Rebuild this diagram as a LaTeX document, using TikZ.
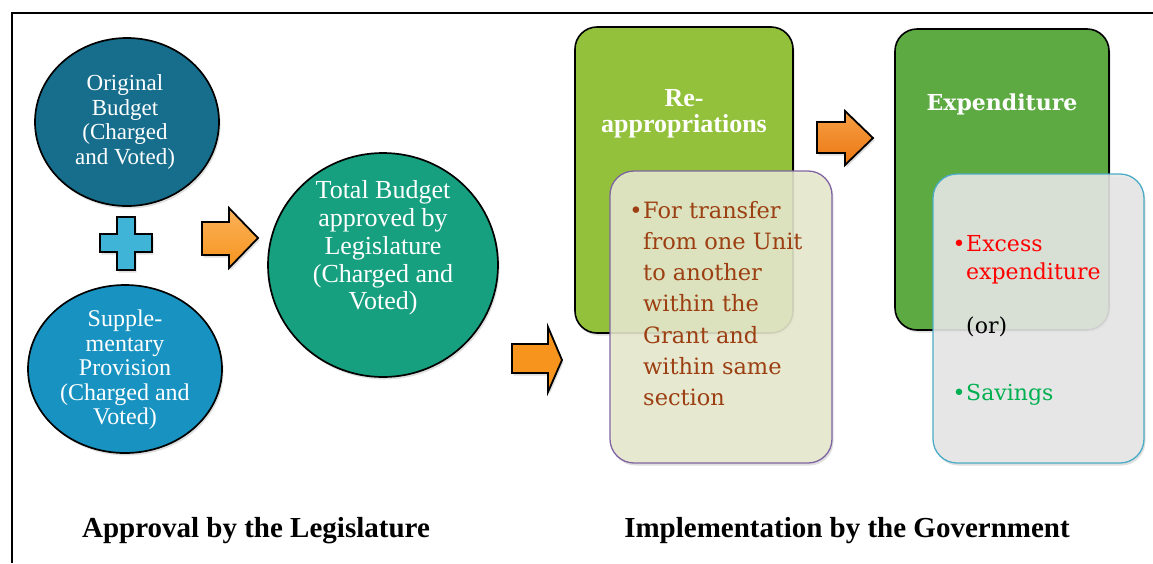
\documentclass[tikz,border=0pt]{standalone}
\usepackage{fontspec}
\setmainfont{Liberation Serif}
\newfontfamily\cambria{DejaVu Serif}
\usetikzlibrary{shapes.geometric,shadows}

\definecolor{origblue}{HTML}{166E8C}
\definecolor{supblue}{HTML}{1893C1}
\definecolor{totalgreen}{HTML}{16A07F}
\definecolor{plusblue}{HTML}{3FB4D6}
\definecolor{arrowlight}{HTML}{FBB25A}
\definecolor{arroworange}{HTML}{F7941E}
\definecolor{arrowdeep}{HTML}{EC7612}
\definecolor{reappgreen}{HTML}{93C13B}
\definecolor{expgreen}{HTML}{5DA942}
\definecolor{notecream}{HTML}{E7EACD}
\definecolor{notepurple}{HTML}{8064A2}
\definecolor{notegrey}{HTML}{E8E8E8}
\definecolor{noteteal}{HTML}{4BACC6}
\definecolor{notebrown}{HTML}{9C3F12}
\definecolor{savegreen}{HTML}{00B050}

\begin{document}
\begin{tikzpicture}[x=1pt,y=-1pt,
  softshadow/.style={drop shadow={opacity=0.25,shadow xshift=1.5pt,shadow yshift=-2.5pt}},
  budget/.style={ellipse,draw=black,line width=1.7pt,softshadow},
  bubbletext/.style={text=white,align=center,inner sep=0pt},
  blockarrow/.style={draw=black,line width=1.8pt,line join=miter,softshadow},
  stagebox/.style={draw=black,line width=1.6pt,rounded corners=22pt,softshadow},
  notebox/.style={line width=1.3pt,rounded corners=24pt,fill opacity=0.88,softshadow},
  notetext/.style={inner sep=0pt,align=left,font=\cambria\fontsize{22.5}{31.2}\selectfont},
  caption/.style={font=\bfseries\fontsize{29}{32}\selectfont,inner sep=0pt}]

\useasboundingbox (0,0) rectangle (1153,563);
\fill[white] (0,0) rectangle (1153,563);

% outer frame (top and left rules)
\draw[line width=2pt] (12,563) -- (12,13) -- (1153,13);

% ---- approval by the legislature ----
\node[budget,fill=origblue,minimum width=184,minimum height=168] (orig) at (127,122) {};
\node[bubbletext,font=\fontsize{23}{24.7}\selectfont] (origtext) at (125,122)
  {Original\\Budget\\(Charged\\and Voted)};

% plus sign
\filldraw[fill=plusblue,draw=black,line width=1.7pt,softshadow]
  (117,217) -- (135,217) -- (135,234) -- (152,234) -- (152,252) -- (135,252)
  -- (135,270) -- (117,270) -- (117,252) -- (100,252) -- (100,234) -- (117,234) -- cycle;

\node[budget,fill=supblue,minimum width=194,minimum height=168] (supp) at (125,369) {};
\node[bubbletext,font=\fontsize{24}{24.5}\selectfont] (supptext) at (125,370)
  {Supple-\\mentary\\Provision\\(Charged and\\Voted)};

% arrow into the total
\filldraw[blockarrow,top color=arrowlight,bottom color=arroworange]
  (202,222) -- (229,222) -- (229,208) -- (258,238) -- (229,268) -- (229,255) -- (202,255) -- cycle;

\node[budget,fill=totalgreen,minimum width=230,minimum height=224] (total) at (383,265) {};
\node[bubbletext,font=\fontsize{26}{27.8}\selectfont] (totaltext) at (383,248)
  {Total Budget\\approved by\\Legislature\\(Charged and\\Voted)};

% ---- implementation by the government ----
\filldraw[blockarrow,fill=arroworange]
  (512,344) -- (548,344) -- (548,327) -- (562,360) -- (548,392) -- (548,373) -- (512,373) -- cycle;

\node[stagebox,fill=reappgreen,minimum width=218,minimum height=306] (reapp) at (684,180) {};
\node[inner sep=0pt,anchor=north,align=center,text=white,
      font=\bfseries\fontsize{26}{26.5}\selectfont] (reapptitle) at (684,89)
  {Re-\\appropriations};

\node[notebox,fill=notecream,draw=notepurple,minimum width=222,minimum height=292] (transfer) at (721,317) {};
\node[notetext,text=notebrown,anchor=north west] (transfertext) at (643,201)
  {\llap{\textbullet\hspace{0.5pt}}For transfer\\from one Unit\\to another\\within the\\Grant and\\within same\\section};

\filldraw[blockarrow,top color=arrowlight!70!arrowdeep,bottom color=arrowdeep]
  (817,122) -- (845,122) -- (845,111) -- (873,138) -- (845,165) -- (845,153) -- (817,153) -- cycle;

\node[stagebox,fill=expgreen,minimum width=214,minimum height=301] (expend) at (1002,179.5) {};
\node[inner sep=0pt,anchor=base,text=white,font=\cambria\bfseries\fontsize{22}{26}\selectfont]
  (expendtitle) at (1002,110) {Expenditure};

\node[notebox,fill=notegrey,draw=noteteal,minimum width=211,minimum height=289] (outcome) at (1038.5,318.5) {};
\node[notetext,text=red,anchor=north west,font=\cambria\fontsize{22}{28}\selectfont]
  (excesstext) at (966,235) {\llap{\textbullet\hspace{0.5pt}}Excess\\expenditure};
\node[notetext,text=black,anchor=base west,font=\cambria\fontsize{22}{28}\selectfont]
  (ortext) at (966,333) {(or)};
\node[notetext,text=savegreen,anchor=base west,font=\cambria\fontsize{22}{28}\selectfont]
  (savetext) at (966,400) {\llap{\textbullet\hspace{0.5pt}}Savings};

% ---- captions ----
\node[caption,anchor=base] (approvalcap) at (256,537) {Approval by the Legislature};
\node[caption,anchor=base] (implcap) at (847,537) {Implementation by the Government};

\end{tikzpicture}
\end{document}
